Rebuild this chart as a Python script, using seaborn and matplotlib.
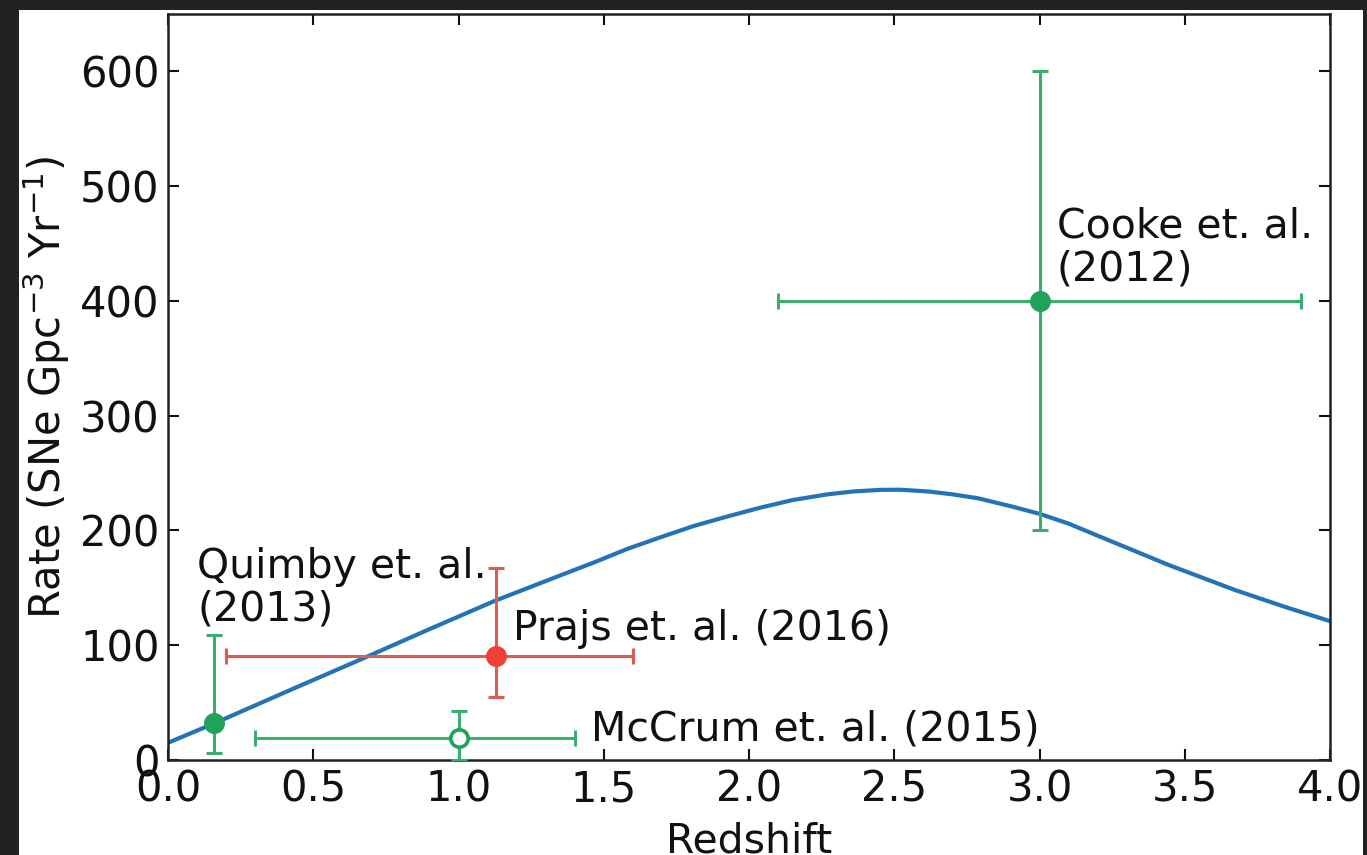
import matplotlib
matplotlib.use("Agg")
import matplotlib.pyplot as plt
from matplotlib.patches import Rectangle
import seaborn as sns
import pandas as pd

# Model rate curve (redshift, rate)
model_z = [0.0, 0.16, 0.43, 0.685, 0.9, 1.128, 1.352, 1.47, 1.582, 1.70, 1.811,
           1.93, 2.041, 2.15, 2.271, 2.36, 2.455, 2.52, 2.616, 2.70, 2.789,
           2.903, 3.0, 3.10, 3.214, 3.444, 3.674, 3.85, 4.0]
model_rate = [15, 32, 62, 90, 114, 139, 161, 172.5, 184, 194.5, 204,
              212.5, 220, 226.5, 231.5, 234, 235.4, 235.5, 234, 231.5, 228,
              221, 214.5, 206, 194, 170, 148, 133, 121]

# Measured rates
surveys = ["Quimby et. al.\n(2013)", "Prajs et. al. (2016)",
           "McCrum et. al. (2015)", "Cooke et. al.\n(2012)"]
obs_z = [0.16, 1.13, 1.0, 3.0]
obs_rate = [32, 91, 19, 400]
rate_err_lo = [26, 36, 19, 200]
rate_err_hi = [77, 76, 24, 200]
z_err_lo = [0.0, 0.93, 0.7, 0.9]
z_err_hi = [0.0, 0.47, 0.4, 0.9]
obs_filled = [True, True, False, True]
obs_colors = ["#1fa35a", "#ee4035", "#1fa35a", "#1fa35a"]
bar_colors = ["#3aae6e", "#e05a55", "#3aae6e", "#3aae6e"]

# Label anchors (left, bottom) in data units
label_z = [0.10, 1.186, 1.455, 3.059]
label_rate = [114, 97, 9, 410]

sns.set_style("ticks")
plt.rcParams.update({
    "font.family": ["DejaVu Sans"],
    "xtick.direction": "in",
    "ytick.direction": "in",
    "xtick.top": True,
    "ytick.right": True,
    "xtick.major.size": 8,
    "ytick.major.size": 8,
    "xtick.major.width": 1.5,
    "ytick.major.width": 1.5,
    "xtick.major.pad": 6,
    "ytick.major.pad": 6,
    "axes.linewidth": 1.8,
    "axes.edgecolor": "#222222",
})

fig = plt.figure(figsize=(13.67, 8.55), dpi=100, facecolor="white")
ax = fig.add_axes([168 / 1367, 95 / 855, (1330 - 168) / 1367, (760 - 14) / 855])

curve = pd.DataFrame({"z": model_z, "rate": model_rate})
sns.lineplot(data=curve, x="z", y="rate", ax=ax, color="#2473b6",
             linewidth=3.0, zorder=2)

for i in range(len(obs_z)):
    ax.errorbar(obs_z[i], obs_rate[i],
                yerr=[[rate_err_lo[i]], [rate_err_hi[i]]],
                xerr=[[z_err_lo[i]], [z_err_hi[i]]] if z_err_hi[i] > 0 else None,
                fmt="none", ecolor=bar_colors[i], elinewidth=2.2,
                capsize=6, capthick=2.2, zorder=3)
    ax.plot(obs_z[i], obs_rate[i], marker="o", markersize=12.5,
            markeredgewidth=2.6, markeredgecolor=obs_colors[i],
            markerfacecolor=obs_colors[i] if obs_filled[i] else "white",
            linestyle="none", zorder=4)
    ax.text(label_z[i], label_rate[i], surveys[i], fontsize=29.5,
            ha="left", va="bottom", color="#111111", linespacing=1.08,
            zorder=5)

ax.set_xlim(0, 4.0)
ax.set_ylim(0, 650)
ax.set_xticks([0.0, 0.5, 1.0, 1.5, 2.0, 2.5, 3.0, 3.5, 4.0])
ax.set_xticklabels(["0.0", "0.5", "1.0", "1.5", "2.0", "2.5", "3.0", "3.5", "4.0"])
ax.set_yticks([0, 100, 200, 300, 400, 500, 600])
ax.tick_params(labelsize=30, colors="#111111")
ax.set_xlabel("Redshift", fontsize=29.5, labelpad=8, color="#111111")
ax.set_ylabel(r"Rate (SNe Gpc$^{-3}$ Yr$^{-1}$)", fontsize=30,
              labelpad=6, color="#111111")

# Dark frame around the white panel
frame = "#222222"
for x0, y0, w, h in [(0, 0, 19 / 1367, 1), (1363 / 1367, 0, 1, 1),
                     (0, 845 / 855, 1, 1)]:
    fig.add_artist(Rectangle((x0, y0), w, h, transform=fig.transFigure,
                             facecolor=frame, edgecolor="none", zorder=20))

fig.savefig("out.png", dpi=100, facecolor="white")
